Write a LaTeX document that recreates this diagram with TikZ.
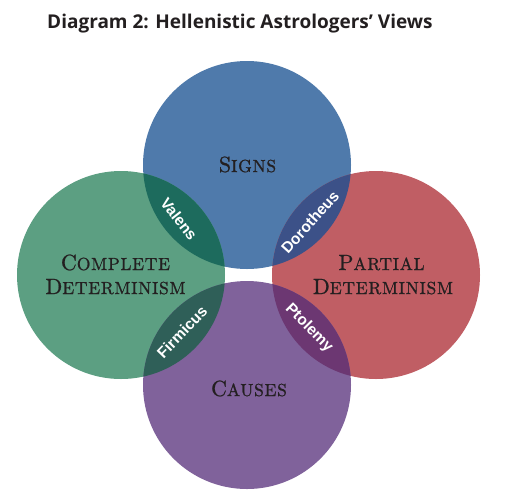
\documentclass[tikz,border=0pt]{standalone}
\usepackage{fontspec}
\newfontfamily\titlefont{Open Sans}
\newfontfamily\labfont{Liberation Sans}
\newfontfamily\capsfont{lmroman10-regular.otf}[FakeBold=0.9, LetterSpace=4]
\newcommand\bigsc[2]{{\capsfont\fontsize{22}{25}\selectfont #1\fontsize{17.5}{25}\selectfont #2}}
\definecolor{cblue}{HTML}{4F7AAB}
\definecolor{cgreen}{HTML}{5C9F82}
\definecolor{cred}{HTML}{C05E64}
\definecolor{cpurple}{HTML}{80629B}
\definecolor{lbg}{HTML}{1D6B5D}
\definecolor{lbr}{HTML}{3C5188}
\definecolor{lgp}{HTML}{2F5F58}
\definecolor{lrp}{HTML}{6C3772}
\definecolor{ink}{HTML}{231F20}
\tikzset{
  circlab/.style={text=ink, align=center, inner sep=0pt},
  lenslab/.style={font=\labfont\bfseries\fontsize{15.5}{16}\selectfont, text=white, inner sep=0pt},
}
\begin{document}
\begin{tikzpicture}[x=1pt,y=-1pt]
\useasboundingbox (0,0) rectangle (505,499);
\coordinate (cb) at (247,165);
\coordinate (cp) at (247,385);
\coordinate (cg) at (121,275);
\coordinate (cr) at (376,275);
\fill[cblue] (cb) circle (104pt);
\fill[cgreen] (cg) circle (104pt);
\fill[cred] (cr) circle (104pt);
\fill[cpurple] (cp) circle (104pt);
\begin{scope}\clip (cb) circle (104pt); \fill[lbg] (cg) circle (104pt);\end{scope}
\begin{scope}\clip (cb) circle (104pt); \fill[lbr] (cr) circle (104pt);\end{scope}
\begin{scope}\clip (cp) circle (104pt); \fill[lgp] (cg) circle (104pt);\end{scope}
\begin{scope}\clip (cp) circle (104pt); \fill[lrp] (cr) circle (104pt);\end{scope}
\node[anchor=base west, inner sep=0pt, text=ink, font=\titlefont\bfseries\fontsize{19}{22}\selectfont] (title) at (47,28) {Diagram 2: Hellenistic Astrologers’ Views};
\node[circlab, anchor=base] (signs) at (247.5,172) {\bigsc{S}{IGNS}};
\node[circlab, anchor=base] (causes) at (249,396) {\bigsc{C}{AUSES}};
\node[circlab, anchor=base] (complete) at (115.5,270) {\bigsc{C}{OMPLETE}};
\node[circlab, anchor=base] (cdet) at (115.5,294) {\bigsc{D}{ETERMINISM}};
\node[circlab, anchor=base] (partial) at (381.5,270) {\bigsc{P}{ARTIAL}};
\node[circlab, anchor=base] (pdet) at (383,294) {\bigsc{D}{ETERMINISM}};
\node[lenslab, rotate=-52] (valens) at (179,219) {Valens};
\node[lenslab, rotate=48] (dorotheus) at (310,222) {Dorotheus};
\node[lenslab, rotate=46] (firmicus) at (182,332) {Firmicus};
\node[lenslab, rotate=-45] (ptolemy) at (309,328) {Ptolemy};
\end{tikzpicture}
\end{document}
